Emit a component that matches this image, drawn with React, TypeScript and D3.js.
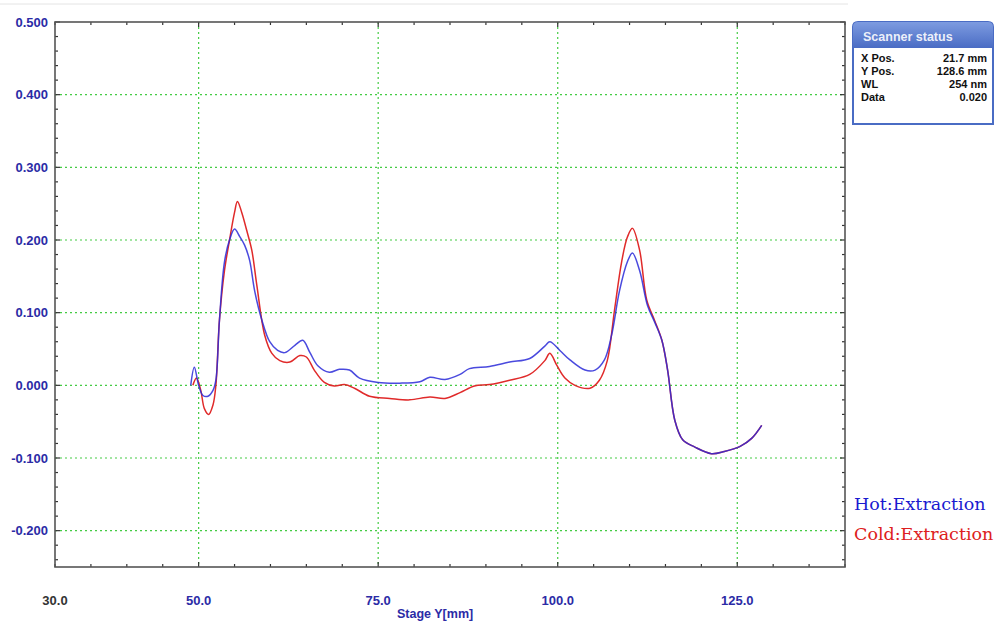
import React from "react";
import * as d3 from "d3";

const hotX = [48.9, 49.4, 50, 50.6, 51.3, 52, 52.4, 52.9, 53.6, 54.3, 55, 55.7, 56.4, 57.1, 57.8, 58.8, 59.9, 61, 62, 63.4, 64.5, 65.5, 66.6, 68.2, 69.6, 71, 72.4, 75, 78, 80.8, 82.2, 84.3, 86.4, 87.7, 90.5, 93.3, 96.1, 98.2, 98.9, 100.3, 101.7, 103.8, 105.2, 106.5, 107.5, 108.6, 109.7, 110.4, 111.4, 112.5, 113.5, 114.5, 115.3, 116.3, 117.4, 119.1, 121.4, 123.2, 125.4, 127, 128.4];
const hotY = [0, 0.025, 0.0, -0.014, -0.015, -0.007, 0.007, 0.09, 0.17, 0.2, 0.215, 0.205, 0.193, 0.172, 0.13, 0.09, 0.06, 0.048, 0.045, 0.055, 0.062, 0.045, 0.027, 0.018, 0.022, 0.021, 0.01, 0.004, 0.003, 0.005, 0.011, 0.008, 0.015, 0.023, 0.026, 0.032, 0.037, 0.054, 0.06, 0.048, 0.035, 0.021, 0.021, 0.035, 0.069, 0.13, 0.17, 0.182, 0.158, 0.11, 0.087, 0.062, 0.021, -0.048, -0.075, -0.085, -0.094, -0.091, -0.084, -0.073, -0.055];

const coldX = [49.2, 49.7, 50.3, 50.8, 51.4, 52, 52.4, 52.9, 53.6, 54.3, 55, 55.4, 56, 56.7, 57.4, 58.1, 59.2, 60.2, 61.3, 62.7, 64.1, 65, 66.1, 67.5, 68.9, 70.3, 71.7, 73.8, 76.6, 79.4, 82.2, 84.3, 86.4, 88.4, 90.5, 93.3, 96.1, 98.2, 98.9, 99.9, 101, 102.4, 104.5, 105.8, 106.9, 107.9, 108.9, 109.7, 110.4, 111.4, 112.4, 113.5, 114.5, 115.3, 116.3, 117.4, 119.1, 121.4, 123.2, 125.4, 127, 128.4];
const coldY = [0, 0.01, -0.007, -0.032, -0.04, -0.027, 0, 0.09, 0.158, 0.2, 0.238, 0.253, 0.238, 0.213, 0.186, 0.138, 0.069, 0.044, 0.034, 0.032, 0.041, 0.039, 0.021, 0.004, -0.001, 0.001, -0.004, -0.015, -0.018, -0.02, -0.016, -0.018, -0.01, -0.001, 0.001, 0.007, 0.015, 0.034, 0.044, 0.027, 0.01, 0, -0.004, 0.007, 0.034, 0.103, 0.17, 0.204, 0.216, 0.186, 0.117, 0.089, 0.062, 0.021, -0.048, -0.075, -0.085, -0.094, -0.091, -0.084, -0.073, -0.055];

const xMajor = [50, 75, 100, 125];
const xMajorLabels = ["50.0", "75.0", "100.0", "125.0"];
const yMajor = [0.5, 0.4, 0.3, 0.2, 0.1, 0, -0.1, -0.2];
const yMajorLabels = ["0.500", "0.400", "0.300", "0.200", "0.100", "0.000", "-0.100", "-0.200"];
const statusLabels = ["X Pos.", "Y Pos.", "WL", "Data"];
const statusValues = ["21.7 mm", "128.6 mm", "254 nm", "0.020"];
const legendNames = ["Hot:Extraction", "Cold:Extraction"];

const L = 55, R = 845, T = 22, B = 567;
const x = d3.scaleLinear().domain([30, 140]).range([L, R]);
const y = d3.scaleLinear().domain([-0.25, 0.5]).range([B, T]);

const blue = "#2a2ad8";
const red = "#e02a2a";
const labelBlue = "#2b2ba6";
const grid = "#44cc44";

export default function App() {
  const line = d3
    .line<[number, number]>()
    .x((d) => x(d[0]))
    .y((d) => y(d[1]))
    .curve(d3.curveCatmullRom.alpha(0.5));
  const hot = hotX.map((v, i) => [v, hotY[i]] as [number, number]);
  const cold = coldX.map((v, i) => [v, coldY[i]] as [number, number]);
  const xMinor = d3.range(30, 140.01, 5);
  const yMinor2 = d3.range(0.5, -0.2501, -0.02);
  const axisFont = "'Liberation Sans', Arial, sans-serif";
  return (
    <svg width={995} height={624} style={{ position: "absolute", left: 0, top: 0, background: "#fff" }}>
      <rect x={0} y={0} width={995} height={624} fill="#fff" />
      <line x1={0} x2={848} y1={4} y2={4} stroke="#e4e4e4" strokeWidth={1} />
      {xMajor.map((v) => (
        <line key={"gx" + v} x1={x(v)} x2={x(v)} y1={T} y2={B} stroke={grid} strokeWidth={1.2} strokeDasharray="2,3" />
      ))}
      {yMajor.filter((v) => v < 0.5).map((v) => (
        <line key={"gy" + v} x1={L} x2={R} y1={y(v)} y2={y(v)} stroke={grid} strokeWidth={1.2} strokeDasharray="2,3" />
      ))}
      {xMinor.map((v) => (
        <g key={"xt" + v}>
          <line x1={x(v)} x2={x(v)} y1={B} y2={B - (xMajor.includes(v) ? 5 : 3)} stroke="#333" strokeWidth={1.2} />
          <line x1={x(v)} x2={x(v)} y1={T} y2={T + (xMajor.includes(v) ? 5 : 3)} stroke="#333" strokeWidth={1.2} />
        </g>
      ))}
      {yMinor2.map((v, i) => (
        <g key={"yt" + i}>
          <line x1={L} x2={L + (i % 5 === 0 ? 5 : 3)} y1={y(v)} y2={y(v)} stroke="#333" strokeWidth={1.2} />
          <line x1={R} x2={R - (i % 5 === 0 ? 5 : 3)} y1={y(v)} y2={y(v)} stroke="#333" strokeWidth={1.2} />
        </g>
      ))}
      <rect x={L} y={T} width={R - L} height={B - T} fill="none" stroke="#555" strokeWidth={1.6} />
      <path d={line(cold) || ""} fill="none" stroke={red} strokeWidth={1.5} />
      <path d={line(hot) || ""} fill="none" stroke={blue} strokeWidth={1.5} strokeOpacity={0.85} />
      {yMajor.map((v, i) => (
        <text key={"yl" + v} x={48} y={y(v) + 4.5} textAnchor="end" fontFamily={axisFont} fontWeight="bold" fontSize={13} fill={labelBlue}>
          {yMajorLabels[i]}
        </text>
      ))}
      <text x={x(30)} y={605} textAnchor="middle" fontFamily={axisFont} fontWeight="bold" fontSize={13} fill="#333">
        30.0
      </text>
      {xMajor.map((v, i) => (
        <text key={"xl" + v} x={x(v)} y={605} textAnchor="middle" fontFamily={axisFont} fontWeight="bold" fontSize={13} fill={labelBlue}>
          {xMajorLabels[i]}
        </text>
      ))}
      <text x={397} y={618} fontFamily={axisFont} fontWeight="bold" fontSize={12.5} fill={labelBlue}>
        Stage Y[mm]
      </text>
      <defs>
        <linearGradient id="hdr" x1="0" y1="0" x2="0" y2="1">
          <stop offset="0" stopColor="#7d9be0" />
          <stop offset="1" stopColor="#4a6cc4" />
        </linearGradient>
      </defs>
      <path d="M853,124 L853,27 Q853,22 858,22 L988,22 Q993,22 993,27 L993,124 Z" fill="#fff" stroke="#4a6cc4" strokeWidth={2} />
      <path d="M853,48 L853,27 Q853,22 858,22 L988,22 Q993,22 993,27 L993,48 Z" fill="url(#hdr)" />
      <text x={863} y={41} fontFamily={axisFont} fontWeight="bold" fontSize={12.5} fill="#fff" fillOpacity={0.9}>
        Scanner status
      </text>
      {statusLabels.map((s, i) => (
        <g key={s}>
          <text x={861} y={62 + i * 13} fontFamily={axisFont} fontWeight="bold" fontSize={11} fill="#111">
            {s}
          </text>
          <text x={987} y={62 + i * 13} textAnchor="end" fontFamily={axisFont} fontWeight="bold" fontSize={11} fill="#111">
            {statusValues[i]}
          </text>
        </g>
      ))}
      <text x={854} y={510} fontFamily="'DejaVu Serif', serif" fontSize={17.5} fill="#1a1ad0">
        {legendNames[0]}
      </text>
      <text x={854} y={540} fontFamily="'DejaVu Serif', serif" fontSize={17.5} fill="#dd2020">
        {legendNames[1]}
      </text>
    </svg>
  );
}
